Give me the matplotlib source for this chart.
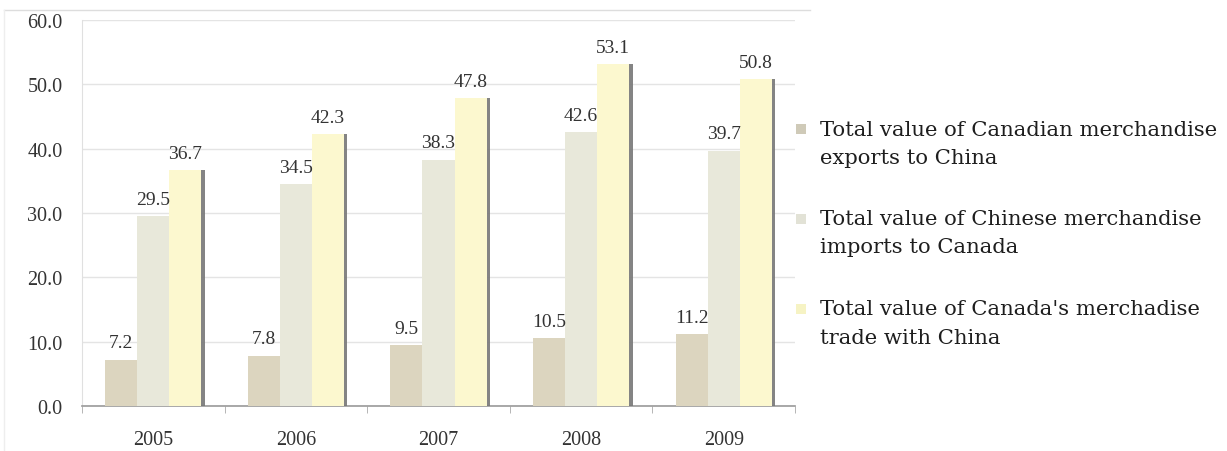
import numpy as np
import matplotlib.pyplot as plt
import matplotlib.patheffects as pe
from matplotlib.patches import Rectangle

plt.switch_backend('agg')

years = ['2005', '2006', '2007', '2008', '2009']
exports = [7.2, 7.8, 9.5, 10.5, 11.2]
imports = [29.5, 34.5, 38.3, 42.6, 39.7]
trade = [36.7, 42.3, 47.8, 53.1, 50.8]
labels = ['Total value of Canadian merchandise\nexports to China',
          'Total value of Chinese merchandise\nimports to Canada',
          "Total value of Canada's merchadise\ntrade with China"]
colors = ['#dcd5bf', '#e8e8da', '#fcf8cf']
legend_patch_colors = ['#cfcab8', '#e2e2d6', '#f6f3c4']

plt.rcParams['font.family'] = ['Liberation Serif', 'DejaVu Serif']

W, H = 1227, 452
fig = plt.figure(figsize=(W / 100, H / 100), dpi=100)
ax = fig.add_axes([82 / W, 1 - 407 / H, (795 - 82) / W, (407 - 21) / H])

x = np.arange(len(years))
w = 0.225
series = [exports, imports, trade]
for i, (vals, c) in enumerate(zip(series, colors)):
    bars = ax.bar(x + (i - 1) * w, vals, w, color=c, zorder=3)
    if i == 2:
        for b in bars:
            b.set_path_effects([pe.SimplePatchShadow(offset=(2.5, 0), shadow_rgbFace='#777777', alpha=0.9),
                                pe.Normal()])
    for xi, v in zip(x + (i - 1) * w, vals):
        ax.text(xi, v + 1.3, f'{v:.1f}', ha='center', va='bottom', fontsize=14, color='#333333', zorder=4)

ax.set_xlim(-0.5, len(years) - 0.5)
ax.set_ylim(0, 60)
ax.set_yticks(np.arange(0, 61, 10))
ax.set_yticklabels([f'{t:.1f}' for t in np.arange(0, 61, 10)], fontsize=14.5, color='#333333')
ax.set_xticks(x)
ax.set_xticklabels(years, fontsize=14.5, color='#333333')
ax.set_xticks(np.arange(-0.5, len(years), 1), minor=True)
ax.tick_params(axis='x', which='major', length=0, pad=17)
ax.tick_params(axis='x', which='minor', length=5, color='#aaaaaa', direction='out')
ax.tick_params(axis='y', length=0, pad=14)
ax.grid(axis='y', color='#e4e4e4', linewidth=1, zorder=0)
for s in ['top', 'right']:
    ax.spines[s].set_visible(False)
ax.spines['left'].set_color('#e0e0e0')
ax.spines['bottom'].set_color('#999999')
ax.spines['bottom'].set_linewidth(1.2)

# faint outer frame line
fig.add_artist(plt.Line2D([4 / W, 810 / W], [1 - 11 / H, 1 - 11 / H], color='#dddddd', linewidth=1))
fig.add_artist(plt.Line2D([4 / W, 4 / W], [0.0, 1 - 11 / H], color='#eeeeee', linewidth=1))

# legend drawn by hand: patch beside the first line of each entry
for k, (lab, pc) in enumerate(zip(labels, legend_patch_colors)):
    y0 = 130 + 90 * k
    fig.add_artist(Rectangle((796 / W, 1 - (y0 + 5) / H), 10 / W, 10 / H,
                             transform=fig.transFigure, facecolor=pc, edgecolor='none'))
    for j, line in enumerate(lab.split('\n')):
        fig.text(820 / W, 1 - (y0 + 28 * j) / H, line, fontsize=15.2, va='center', ha='left',
                 color='#1e1e1e', family=['DejaVu Serif'])

fig.savefig('out.png', dpi=100)
